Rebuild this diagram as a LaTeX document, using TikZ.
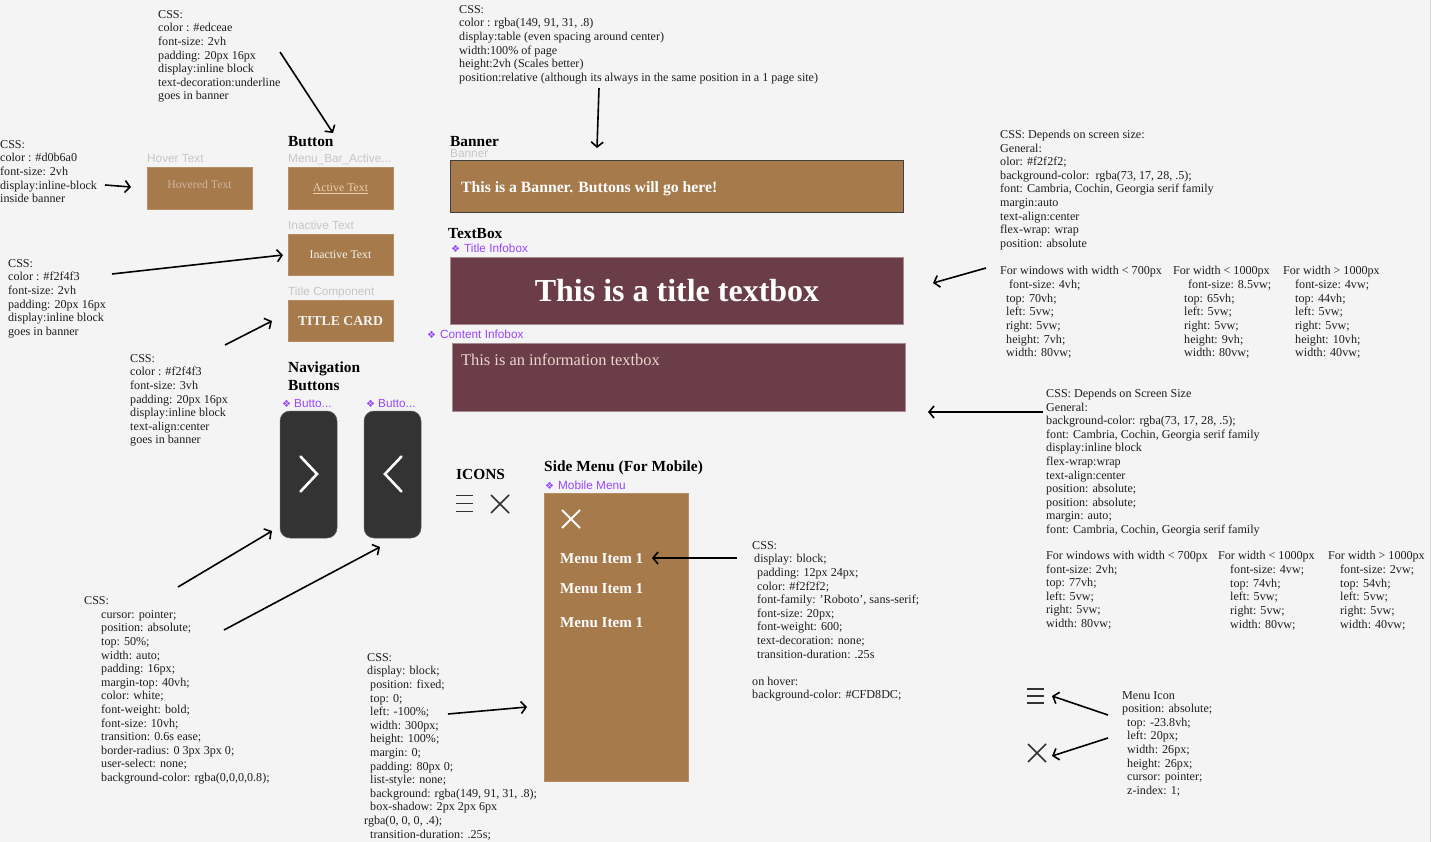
\documentclass[tikz,border=0pt]{standalone}
\usepackage{fontspec}
\setmainfont{Liberation Serif}
\newfontfamily\lsans{Liberation Sans}
\newfontfamily\djv{DejaVu Sans}
\usetikzlibrary{arrows.meta,calc}
\definecolor{bgc}{HTML}{F4F4F4}
\definecolor{brownc}{HTML}{A67A4B}
\definecolor{maroonc}{HTML}{6B3D48}
\definecolor{darkc}{HTML}{333333}
\definecolor{purplec}{HTML}{9747FF}
\definecolor{greyl}{HTML}{C6C6C6}
\definecolor{peach}{HTML}{EDCEAE}
\definecolor{hoverc}{HTML}{D0B6A0}
\definecolor{infoc}{HTML}{EBD6CC}
\definecolor{lightw}{HTML}{F2F4F3}
\definecolor{txt}{HTML}{1E1E1E}
\begin{document}
\begin{tikzpicture}[x=1pt,y=-1pt,
  css/.style={anchor=north west, inner sep=0pt, align=left, font=\fontsize{12.1}{13.6}\selectfont, text=txt},
  heading/.style={anchor=base west, inner sep=0pt, font=\bfseries\fontsize{15.4}{18}\selectfont, text=black},
  glabel/.style={anchor=base west, inner sep=0pt, font=\lsans\fontsize{11.8}{13}\selectfont, text=greyl},
  plabel/.style={anchor=base west, inner sep=0pt, font=\lsans\fontsize{11.8}{13}\selectfont, text=purplec},
  bbox/.style={fill=brownc, draw=brownc!85!white, line width=0.6pt, inner sep=0pt},
  mbox/.style={fill=maroonc, draw=maroonc!60!white, line width=0.8pt, inner sep=0pt},
  navbtn/.style={fill=darkc, draw=darkc!80!white, line width=0.5pt, rounded corners=10pt, minimum width=57pt, minimum height=127pt, inner sep=0pt},
  btntext/.style={inner sep=0pt, font=\fontsize{11.8}{14}\selectfont},
  arr/.style={line width=1.6pt, -{Straight Barb[length=5pt,width=12pt]}},
  icon/.style={line width=1.6pt, draw=darkc}
]
\fill[bgc] (0,0) rectangle (1433,842);
\useasboundingbox (0,0) rectangle (1433,842);
\draw[draw=black!15, line width=1pt] (1430.5,0) -- (1430.5,842);
\fill[white] (1431,0) rectangle (1433,842);

% ---------- Button column ----------
\node[css] (cssactive) at (158,10) {CSS:\\color : \#edceae\\font-size: 2vh\\padding: 20px 16px\\display:inline block\\text-decoration:underline\\goes in banner};
\node[heading] (hbutton) at (288,147) {Button};
\node[glabel] (lactive) at (288,163) {Menu\_Bar\_Active...};
\node[bbox, minimum width=105pt, minimum height=42pt] (active) at (340.5,188) {};
\node[btntext, text=peach] (activet) at (340.5,189) {\underline{Active Text}};
\node[glabel] (linactive) at (288,230) {Inactive Text};
\node[bbox, minimum width=105pt, minimum height=41pt] (inactive) at (340.5,254.5) {};
\node[btntext, text=lightw] (inactivet) at (340.5,255) {Inactive Text};
\node[glabel] (ltitle) at (288,296) {Title Component};
\node[bbox, minimum width=105pt, minimum height=41pt] (titlecard) at (340.5,320.5) {};
\node[inner sep=0pt, font=\bfseries\fontsize{13.7}{16}\selectfont, text=lightw] (titlecardt) at (340.5,321) {TITLE CARD};

\node[glabel] (lhover) at (147,163) {Hover Text};
\node[bbox, minimum width=105pt, minimum height=42pt] (hover) at (199.5,188) {};
\node[btntext, text=hoverc] (hovert) at (199.5,184.5) {Hovered Text};

\node[css] (csshover) at (0,140) {CSS:\\color : \#d0b6a0\\font-size: 2vh\\display:inline-block\\inside banner};
\node[css] (cssinactive) at (8,259) {CSS:\\color : \#f2f4f3\\font-size: 2vh\\padding: 20px 16px\\display:inline block\\goes in banner};
\node[css] (csstitle) at (130,354) {CSS:\\color : \#f2f4f3\\font-size: 3vh\\padding: 20px 16px\\display:inline block\\text-align:center\\goes in banner};

% ---------- Banner ----------
\node[css] (cssbanner) at (459,5) {CSS:\\color : rgba(149, 91, 31, .8)\\display:table (even spacing around center)\\width:100\% of page\\height:2vh (Scales better)\\position:relative (although its always in the same position in a 1 page site)};
\node[heading] (hbanner) at (450,147) {Banner};
\node[glabel] (lbanner) at (450,158) {Banner};
\node[fill=brownc, draw=black!75, line width=1pt, minimum width=453pt, minimum height=52pt, inner sep=0pt] (banner) at (676.5,187) {};
\node[anchor=base west, inner sep=0pt, font=\bfseries\fontsize{15.7}{18}\selectfont, text=white] (bannert) at (461,192.5) {This is a Banner. Buttons will go here!};

% ---------- TextBox ----------
\node[heading] (htextbox) at (448,239) {TextBox};
\node[plabel] (ltitlebox) at (451,253) {{\djv\fontsize{10}{10}\selectfont ❖}\hspace{4pt}Title Infobox};
\node[mbox, minimum width=453pt, minimum height=67pt] (titlebox) at (676.5,290.5) {};
\node[inner sep=0pt, font=\bfseries\fontsize{32}{36}\selectfont, text=white] (titleboxt) at (677,291) {This is a title textbox};
\node[plabel] (lcontent) at (427,339) {{\djv\fontsize{10}{10}\selectfont ❖}\hspace{4pt}Content Infobox};
\node[mbox, minimum width=453pt, minimum height=68pt] (contentbox) at (678.5,377) {};
\node[anchor=base west, inner sep=0pt, font=\fontsize{16.4}{19}\selectfont, text=infoc] (contentt) at (461,366) {This is an information textbox};

% ---------- Right CSS (title) ----------
\node[css] (cssright1) at (1000,130) {CSS: Depends on screen size:\\General:\\olor: \#f2f2f2;\\background-color:\ \ rgba(73, 17, 28, .5);\\font: Cambria, Cochin, Georgia serif family\\margin:auto\\text-align:center\\flex-wrap: wrap\\position: absolute};
\node[css] (r1c1h) at (1000,266) {For windows with width < 700px};
\node[css] (r1c1) at (1006,280) {\hspace{3pt}font-size: 4vh;\\top: 70vh;\\left: 5vw;\\right: 5vw;\\height: 7vh;\\width: 80vw;};
\node[css] (r1c2h) at (1173,266) {For width < 1000px};
\node[css] (r1c2) at (1184,280) {\hspace{4pt}font-size: 8.5vw;\\top: 65vh;\\left: 5vw;\\right: 5vw;\\height: 9vh;\\width: 80vw;};
\node[css] (r1c3h) at (1283,266) {For width > 1000px};
\node[css] (r1c3) at (1295,280) {font-size: 4vw;\\top: 44vh;\\left: 5vw;\\right: 5vw;\\height: 10vh;\\width: 40vw;};

% ---------- Right CSS (content) ----------
\node[css] (cssright2) at (1046,389) {CSS: Depends on Screen Size\\General:\\background-color: rgba(73, 17, 28, .5);\\font: Cambria, Cochin, Georgia serif family\\display:inline block\\flex-wrap:wrap\\text-align:center\\position: absolute;\\position: absolute;\\margin: auto;\\font: Cambria, Cochin, Georgia serif family};
\node[css] (r2c1) at (1046,551) {For windows with width < 700px\\font-size: 2vh;\\top: 77vh;\\left: 5vw;\\right: 5vw;\\width: 80vw;};
\node[css] (r2c2h) at (1218,551) {For width < 1000px};
\node[css] (r2c2) at (1230,565) {font-size: 4vw;\\top: 74vh;\\left: 5vw;\\right: 5vw;\\width: 80vw;};
\node[css] (r2c3h) at (1328,551) {For width > 1000px};
\node[css] (r2c3) at (1340,565) {font-size: 2vw;\\top: 54vh;\\left: 5vw;\\right: 5vw;\\width: 40vw;};

% ---------- Navigation buttons ----------
\node[anchor=north west, inner sep=0pt, align=left, font=\bfseries\fontsize{15.4}{18}\selectfont] (hnav) at (288,361.5) {Navigation\\Buttons};
\node[plabel] (lnav1) at (282,407) {{\djv\fontsize{10}{10}\selectfont ❖}\hspace{3pt}Butto...};
\node[plabel] (lnav2) at (366,407) {{\djv\fontsize{10}{10}\selectfont ❖}\hspace{3pt}Butto...};
\node[navbtn] (nav1) at (308.5,474.5) {};
\node[navbtn] (nav2) at (392.5,474.5) {};
\draw[white, line width=2.6pt, line cap=round, line join=miter] ($(nav1)+(-8,-18)$) -- ($(nav1)+(8.5,-0.5)$) -- ($(nav1)+(-8,17)$);
\draw[white, line width=2.6pt, line cap=round, line join=miter] ($(nav2)+(9,-18)$) -- ($(nav2)+(-7.5,-0.5)$) -- ($(nav2)+(9,17)$);

\node[css] (cssnavhead) at (84,596) {CSS:};
\node[css] (cssnav) at (101,610) {cursor: pointer;\\position: absolute;\\top: 50\%;\\width: auto;\\padding: 16px;\\margin-top: 40vh;\\color: white;\\font-weight: bold;\\font-size: 10vh;\\transition: 0.6s ease;\\border-radius: 0 3px 3px 0;\\user-select: none;\\background-color: rgba(0,0,0,0.8);};

% ---------- Icons ----------
\node[heading] (hicons) at (456,479) {ICONS};
\draw[icon] (456,495.5) -- (473,495.5) (456,503.5) -- (473,503.5) (456,511.5) -- (473,511.5);
\draw[icon] (491,495) -- (509,513) (509,495) -- (491,513);

% ---------- Side menu ----------
\node[heading] (hside) at (544,471) {Side Menu (For Mobile)};
\node[plabel] (lside) at (545,489) {{\djv\fontsize{10}{10}\selectfont ❖}\hspace{4pt}Mobile Menu};
\node[fill=brownc, draw=brownc!85!white, line width=0.6pt, minimum width=144pt, minimum height=288pt, inner sep=0pt] (sidemenu) at (616,637) {};
\draw[white, line width=1.8pt] (562,510) -- (580,528) (580,510) -- (562,528);
\node[anchor=base west, inner sep=0pt, font=\bfseries\fontsize{15.1}{18}\selectfont, text=white] (item1) at (560,563) {Menu Item 1};
\node[anchor=base west, inner sep=0pt, font=\bfseries\fontsize{15.1}{18}\selectfont, text=white] (item2) at (560,593) {Menu Item 1};
\node[anchor=base west, inner sep=0pt, font=\bfseries\fontsize{15.1}{18}\selectfont, text=white] (item3) at (560,627) {Menu Item 1};

\node[css] (cssitem) at (752,541) {CSS:\\\hspace{2pt}display: block;\\\hspace{5pt}padding: 12px 24px;\\\hspace{5pt}color: \#f2f2f2;\\\hspace{5pt}font-family: 'Roboto', sans-serif;\\\hspace{5pt}font-size: 20px;\\\hspace{5pt}font-weight: 600;\\\hspace{5pt}text-decoration: none;\\\hspace{5pt}transition-duration: .25s\\ \\on hover:\\background-color: \#CFD8DC;};

\node[css] (cssside) at (364,653) {\hspace{3pt}CSS:\\\hspace{3pt}display: block;\\\hspace{6pt}position: fixed;\\\hspace{6pt}top: 0;\\\hspace{6pt}left: -100\%;\\\hspace{6pt}width: 300px;\\\hspace{6pt}height: 100\%;\\\hspace{6pt}margin: 0;\\\hspace{6pt}padding: 80px 0;\\\hspace{6pt}list-style: none;\\\hspace{6pt}background: rgba(149, 91, 31, .8);\\\hspace{6pt}box-shadow: 2px 2px 6px\\rgba(0, 0, 0, .4);\\\hspace{6pt}transition-duration: .25s;};

% ---------- Menu icon ----------
\draw[icon] (1027,689) -- (1044,689) (1027,696) -- (1044,696) (1027,703) -- (1044,703);
\draw[icon] (1028,744) -- (1046,762) (1046,744) -- (1028,762);
\node[css] (cssicon) at (1122,691) {Menu Icon\\position: absolute;\\\hspace{5pt}top: -23.8vh;\\\hspace{5pt}left: 20px;\\\hspace{5pt}width: 26px;\\\hspace{5pt}height: 26px;\\\hspace{5pt}cursor: pointer;\\\hspace{5pt}z-index: 1;};

% ---------- Arrows ----------
\coordinate (a1s) at (280,52);   \coordinate (a1e) at (333,133);
\coordinate (a2s) at (599,88);   \coordinate (a2e) at (597,148);
\coordinate (a3s) at (105,185);  \coordinate (a3e) at (131,187);
\coordinate (a4s) at (112,274);  \coordinate (a4e) at (283,255);
\coordinate (a5s) at (225,345);  \coordinate (a5e) at (272,321);
\coordinate (a6s) at (986,268);  \coordinate (a6e) at (933,283);
\coordinate (a7s) at (1043,412); \coordinate (a7e) at (928,412);
\coordinate (a8s) at (178,587);  \coordinate (a8e) at (272,531);
\coordinate (a9s) at (224,630);  \coordinate (a9e) at (380,547);
\coordinate (a10s) at (737,558); \coordinate (a10e) at (652,558);
\coordinate (a11s) at (448,714); \coordinate (a11e) at (527,707);
\coordinate (a12s) at (1108,715); \coordinate (a12e) at (1052,696);
\coordinate (a13s) at (1108,738); \coordinate (a13e) at (1052,756);
\foreach \i in {1,...,13} {\draw[arr] (a\i s) -- (a\i e);}
\end{tikzpicture}
\end{document}
